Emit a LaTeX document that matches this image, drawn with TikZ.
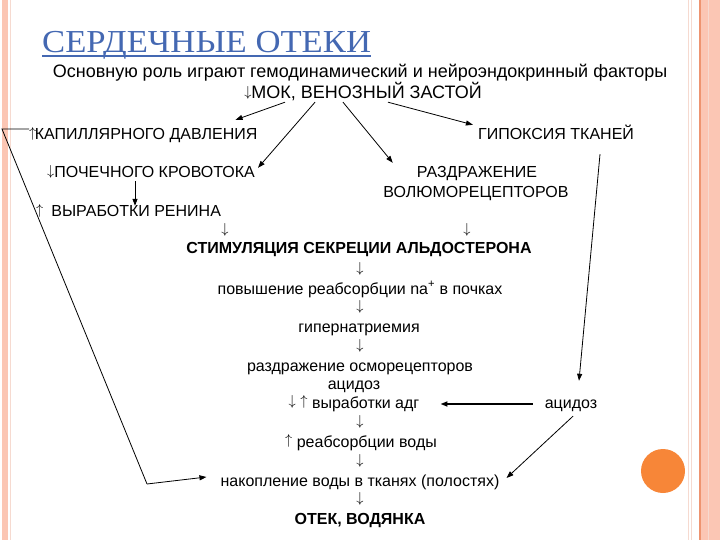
\documentclass[tikz,border=0pt]{standalone}
\usepackage{fontspec}
\setmainfont{Liberation Sans}
\newfontfamily\titlefont{Liberation Serif}
\usetikzlibrary{calc}
\usetikzlibrary{arrows.meta}
\definecolor{titleblue}{RGB}{68,104,178}
\definecolor{framepink}{RGB}{251,198,180}
\definecolor{frameline}{RGB}{238,148,112}
\definecolor{framelight}{RGB}{246,218,208}
\definecolor{dotorange}{RGB}{247,134,56}
\newcommand{\arrdn}{\raisebox{2.8pt}{\fontsize{15}{18}\selectfont$\downarrow$}}
\newcommand{\arrup}{\raisebox{2.8pt}{\fontsize{15}{18}\selectfont$\uparrow$}}

\begin{document}
\begin{tikzpicture}[x=1pt,y=-1pt,
  txt/.style={inner sep=0pt,anchor=base,font=\fontsize{16}{19}\selectfont,text height=11pt,text depth=3pt},
  boldtxt/.style={txt,font=\fontsize{16}{19}\selectfont\bfseries},
  arr/.style={black,line width=0.8pt,-{Triangle[length=7pt,width=5pt]}},
]
\useasboundingbox (0,0) rectangle (720,540);

\fill[framepink] (2,0) rectangle (8,540);
\draw[framelight,line width=1pt] (10.5,0) -- (10.5,540);
\draw[framelight] (688.5,0) -- (688.5,540);
\draw[framelight] (691,0) -- (691,540);
\fill[framepink] (700,0) rectangle (720,540);
\draw[frameline,line width=2pt] (700,0) -- (700,540);
\draw[framelight] (708,0) -- (708,540);
\fill[dotorange] (663,471) circle (22pt);

\node[inner sep=0pt,anchor=base west,text=titleblue,font=\titlefont\fontsize{32}{36}\selectfont] (title) at (42,53) {\scalebox{1.083}[1]{СЕРДЕЧНЫЕ ОТЕКИ}};
\draw[titleblue,line width=1.3pt] ([yshift=-3pt]title.base west) -- ([yshift=-3pt]title.base east);
\node[txt,font=\fontsize{18}{21}\selectfont] (intro) at (360,78) {Основную роль играют гемодинамический и нейроэндокринный факторы};
\node[txt,font=\fontsize{18}{21}\selectfont] (mok) at (363,99) {\arrdn МОК, ВЕНОЗНЫЙ ЗАСТОЙ};

\node[txt,anchor=base west] (kap) at (29,140) {\arrup\kern-1.5pt КАПИЛЛЯРНОГО ДАВЛЕНИЯ};
\node[txt] (gip) at (556,140) {ГИПОКСИЯ ТКАНЕЙ};
\node[txt,anchor=base west] (poch) at (47,178) {\arrdn ПОЧЕЧНОГО КРОВОТОКА};
\node[txt] (razd1) at (477,178) {РАЗДРАЖЕНИЕ};
\node[txt] (razd2) at (476,198) {ВОЛЮМОРЕЦЕПТОРОВ};
\node[txt,anchor=base west] (renin) at (36,217) {\arrup\hspace{8pt}ВЫРАБОТКИ РЕНИНА};
\node[txt] (d1) at (225,236) {\arrdn};
\node[txt] (d2) at (467,236) {\arrdn};

\node[boldtxt] (stim) at (359,254) {СТИМУЛЯЦИЯ СЕКРЕЦИИ АЛЬДОСТЕРОНА};
\node[txt] (d3) at (360,275) {\arrdn};
\node[txt] (pov) at (360,294) {повышение реабсорбции na\textsuperscript{+} в почках};
\node[txt] (d4) at (360,313) {\arrdn};
\node[txt] (giper) at (359,332) {гипернатриемия};
\node[txt] (d5) at (360,352) {\arrdn};
\node[txt] (osmo) at (360,371) {раздражение осморецепторов};
\node[txt] (acid) at (354,389) {ацидоз};
\node[txt] (adg) at (354,408) {\arrdn\ \arrup\ выработки адг};
\node[txt] (acidR) at (571,408) {ацидоз};
\node[txt] (d6) at (360,428) {\arrdn};
\node[txt] (reab) at (361,447) {\arrup\ реабсорбции воды};
\node[txt] (d7) at (360,467) {\arrdn};
\node[txt] (nak) at (360,486) {накопление воды в тканях (полостях)};
\node[txt] (d8) at (360,505) {\arrdn};
\node[boldtxt] (otek) at (360,524) {ОТЕК, ВОДЯНКА};

\coordinate (tl) at (2,129);
\coordinate (bl) at (147,484);
\coordinate (pr) at ([xshift=88pt]poch.south west);
\coordinate (g1) at ([xshift=44pt,yshift=-11pt]gip.south);

\draw[arr] ([xshift=-78pt]mok.south) -- ([xshift=-22pt,yshift=9pt]kap.north east);
\draw[arr] ([xshift=-48pt]mok.south) -- ([xshift=3pt,yshift=-1pt]poch.north east);
\draw[arr] ([xshift=-20pt]mok.south) -- ([xshift=-24pt,yshift=4pt]razd1.north west);
\draw[arr] ([xshift=25pt]mok.south) -- ([xshift=-5pt,yshift=4pt]gip.north west);
\draw[arr] (pr) -- (pr |- renin.north);
\draw[black,line width=0.8pt] ([yshift=7pt]kap.west) -- (tl) -- (bl);
\draw[arr] (bl) -- ([xshift=-14pt,yshift=5pt]nak.west);
\draw[arr] (g1) -- ([xshift=8pt,yshift=16pt]acidR.north);
\draw[black,line width=1.6pt,-{Triangle[length=7pt,width=5pt]}] ([xshift=-12pt]acidR.west) -- ([xshift=21pt]adg.east);
\draw[arr] ([xshift=2pt,yshift=-5pt]acidR.south) -- ([xshift=7pt,yshift=4pt]nak.east);

\end{tikzpicture}
\end{document}
